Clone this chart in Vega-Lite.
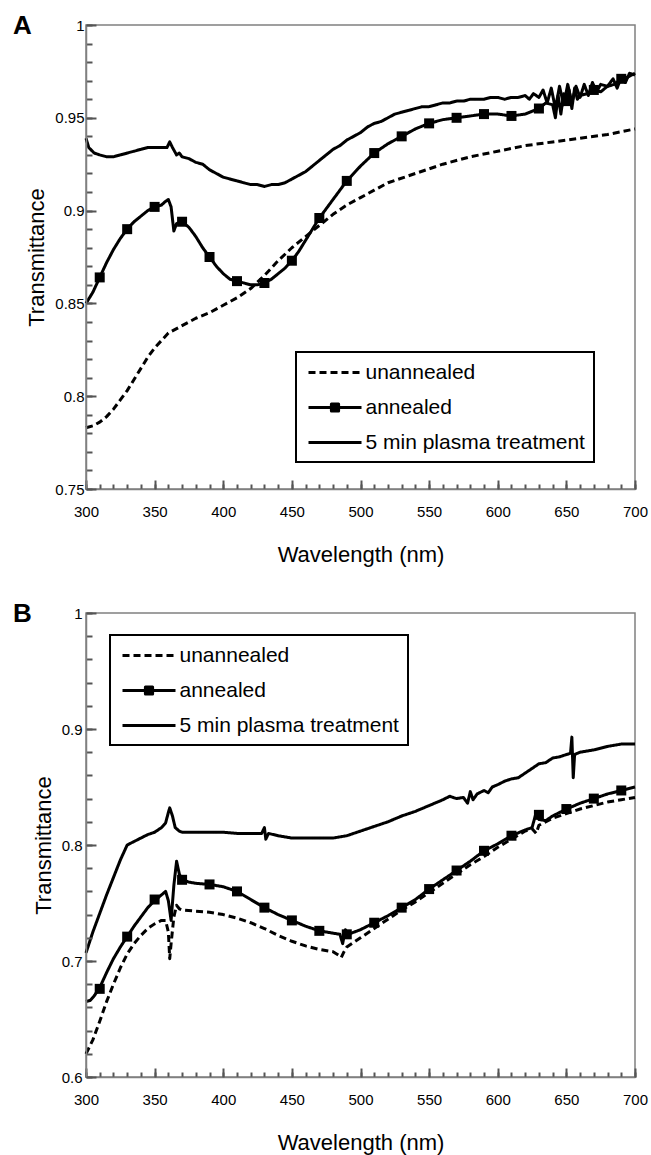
{
 "$schema": "https://vega.github.io/schema/vega-lite/v6.json",
 "background": "white",
 "padding": {"left": 12, "top": 12, "right": 5, "bottom": 5},
 "spacing": 34,
 "resolve": {"scale": {"strokeDash": "independent", "shape": "independent"}, "legend": {"strokeDash": "independent", "shape": "independent"}},
 "config": {
  "font": "Liberation Sans",
  "view": {"stroke": "#808080", "strokeWidth": 1.5},
  "axis": {"grid": false, "ticks": true, "domainColor": "#808080", "domainWidth": 1.5, "tickColor": "#555555", "tickWidth": 2, "tickRound": true, "tickCount": 1000, "labelFont": "Liberation Sans", "labelFontSize": 15, "labelColor": "#000", "titleFont": "Liberation Sans", "titleFontSize": 22, "titleFontWeight": "normal", "titleColor": "#000", "labelOverlap": false, "labelFlush": false, "labelBound": false, "zindex": 1},
  "legend": {"title": null, "orient": "none", "padding": 9, "strokeColor": "black", "fillColor": "white", "strokeWidth": 2, "labelFont": "Liberation Sans", "labelFontSize": 21, "labelColor": "black", "symbolSize": 400, "symbolStrokeWidth": 3, "symbolStrokeColor": "black", "symbolFillColor": "black", "symbolOpacity": 1, "rowPadding": 13, "labelOffset": 19, "symbolOffset": 18.5, "labelLimit": 400},
  "line": {"strokeWidth": 3, "color": "black", "strokeJoin": "round"},
  "title": {"font": "Liberation Sans", "fontSize": 26, "fontWeight": "bold", "color": "black", "anchor": "start", "frame": "group"}
 },
 "datasets": {
  "A": [
   {"w":300,"t":0.783,"s":"unannealed"},{"w":305,"t":0.784,"s":"unannealed"},{"w":310,"t":0.786,"s":"unannealed"},{"w":315,"t":0.789,"s":"unannealed"},{"w":320,"t":0.793,"s":"unannealed"},{"w":325,"t":0.798,"s":"unannealed"},{"w":330,"t":0.803,"s":"unannealed"},{"w":335,"t":0.809,"s":"unannealed"},{"w":340,"t":0.815,"s":"unannealed"},{"w":345,"t":0.821,"s":"unannealed"},{"w":350,"t":0.826,"s":"unannealed"},{"w":355,"t":0.830,"s":"unannealed"},{"w":360,"t":0.834,"s":"unannealed"},{"w":365,"t":0.836,"s":"unannealed"},{"w":370,"t":0.838,"s":"unannealed"},{"w":380,"t":0.842,"s":"unannealed"},{"w":390,"t":0.845,"s":"unannealed"},{"w":400,"t":0.849,"s":"unannealed"},{"w":410,"t":0.853,"s":"unannealed"},{"w":420,"t":0.858,"s":"unannealed"},{"w":430,"t":0.865,"s":"unannealed"},{"w":440,"t":0.873,"s":"unannealed"},{"w":450,"t":0.880,"s":"unannealed"},{"w":460,"t":0.886,"s":"unannealed"},{"w":470,"t":0.892,"s":"unannealed"},{"w":480,"t":0.898,"s":"unannealed"},{"w":490,"t":0.903,"s":"unannealed"},{"w":500,"t":0.907,"s":"unannealed"},{"w":510,"t":0.911,"s":"unannealed"},{"w":520,"t":0.915,"s":"unannealed"},{"w":540,"t":0.920,"s":"unannealed"},{"w":560,"t":0.925,"s":"unannealed"},{"w":580,"t":0.929,"s":"unannealed"},{"w":600,"t":0.932,"s":"unannealed"},{"w":620,"t":0.935,"s":"unannealed"},{"w":640,"t":0.937,"s":"unannealed"},{"w":660,"t":0.939,"s":"unannealed"},{"w":680,"t":0.941,"s":"unannealed"},{"w":700,"t":0.944,"s":"unannealed"},
   {"w":300,"t":0.850,"s":"annealed"},{"w":305,"t":0.856,"s":"annealed"},{"w":310,"t":0.864,"s":"annealed"},{"w":315,"t":0.872,"s":"annealed"},{"w":320,"t":0.879,"s":"annealed"},{"w":325,"t":0.885,"s":"annealed"},{"w":330,"t":0.890,"s":"annealed"},{"w":335,"t":0.894,"s":"annealed"},{"w":340,"t":0.897,"s":"annealed"},{"w":345,"t":0.900,"s":"annealed"},{"w":350,"t":0.902,"s":"annealed"},{"w":355,"t":0.903,"s":"annealed"},{"w":358,"t":0.905,"s":"annealed"},{"w":360,"t":0.906,"s":"annealed"},{"w":362,"t":0.902,"s":"annealed"},{"w":364,"t":0.889,"s":"annealed"},{"w":366,"t":0.893,"s":"annealed"},{"w":370,"t":0.894,"s":"annealed"},{"w":375,"t":0.891,"s":"annealed"},{"w":380,"t":0.886,"s":"annealed"},{"w":385,"t":0.880,"s":"annealed"},{"w":390,"t":0.875,"s":"annealed"},{"w":395,"t":0.870,"s":"annealed"},{"w":400,"t":0.866,"s":"annealed"},{"w":405,"t":0.863,"s":"annealed"},{"w":410,"t":0.862,"s":"annealed"},{"w":415,"t":0.861,"s":"annealed"},{"w":420,"t":0.860,"s":"annealed"},{"w":425,"t":0.860,"s":"annealed"},{"w":430,"t":0.861,"s":"annealed"},{"w":435,"t":0.863,"s":"annealed"},{"w":440,"t":0.866,"s":"annealed"},{"w":445,"t":0.869,"s":"annealed"},{"w":450,"t":0.873,"s":"annealed"},{"w":455,"t":0.878,"s":"annealed"},{"w":460,"t":0.884,"s":"annealed"},{"w":465,"t":0.890,"s":"annealed"},{"w":470,"t":0.896,"s":"annealed"},{"w":480,"t":0.906,"s":"annealed"},{"w":490,"t":0.916,"s":"annealed"},{"w":500,"t":0.924,"s":"annealed"},{"w":510,"t":0.931,"s":"annealed"},{"w":520,"t":0.936,"s":"annealed"},{"w":530,"t":0.940,"s":"annealed"},{"w":540,"t":0.944,"s":"annealed"},{"w":550,"t":0.947,"s":"annealed"},{"w":560,"t":0.949,"s":"annealed"},{"w":570,"t":0.950,"s":"annealed"},{"w":580,"t":0.951,"s":"annealed"},{"w":590,"t":0.952,"s":"annealed"},{"w":600,"t":0.952,"s":"annealed"},{"w":610,"t":0.951,"s":"annealed"},{"w":620,"t":0.952,"s":"annealed"},{"w":630,"t":0.955,"s":"annealed"},{"w":635,"t":0.958,"s":"annealed"},{"w":640,"t":0.957,"s":"annealed"},{"w":642,"t":0.950,"s":"annealed"},{"w":644,"t":0.962,"s":"annealed"},{"w":646,"t":0.952,"s":"annealed"},{"w":648,"t":0.963,"s":"annealed"},{"w":650,"t":0.958,"s":"annealed"},{"w":652,"t":0.965,"s":"annealed"},{"w":654,"t":0.955,"s":"annealed"},{"w":656,"t":0.966,"s":"annealed"},{"w":658,"t":0.960,"s":"annealed"},{"w":660,"t":0.962,"s":"annealed"},{"w":665,"t":0.963,"s":"annealed"},{"w":670,"t":0.965,"s":"annealed"},{"w":675,"t":0.964,"s":"annealed"},{"w":680,"t":0.967,"s":"annealed"},{"w":685,"t":0.968,"s":"annealed"},{"w":690,"t":0.971,"s":"annealed"},{"w":695,"t":0.972,"s":"annealed"},{"w":700,"t":0.974,"s":"annealed"},
   {"w":300,"t":0.939,"s":"5 min plasma treatment"},{"w":302,"t":0.934,"s":"5 min plasma treatment"},{"w":306,"t":0.931,"s":"5 min plasma treatment"},{"w":310,"t":0.930,"s":"5 min plasma treatment"},{"w":315,"t":0.929,"s":"5 min plasma treatment"},{"w":320,"t":0.929,"s":"5 min plasma treatment"},{"w":325,"t":0.930,"s":"5 min plasma treatment"},{"w":330,"t":0.931,"s":"5 min plasma treatment"},{"w":335,"t":0.932,"s":"5 min plasma treatment"},{"w":340,"t":0.933,"s":"5 min plasma treatment"},{"w":345,"t":0.934,"s":"5 min plasma treatment"},{"w":350,"t":0.934,"s":"5 min plasma treatment"},{"w":355,"t":0.934,"s":"5 min plasma treatment"},{"w":359,"t":0.934,"s":"5 min plasma treatment"},{"w":361,"t":0.937,"s":"5 min plasma treatment"},{"w":363,"t":0.934,"s":"5 min plasma treatment"},{"w":366,"t":0.930,"s":"5 min plasma treatment"},{"w":368,"t":0.931,"s":"5 min plasma treatment"},{"w":370,"t":0.929,"s":"5 min plasma treatment"},{"w":375,"t":0.928,"s":"5 min plasma treatment"},{"w":380,"t":0.926,"s":"5 min plasma treatment"},{"w":385,"t":0.925,"s":"5 min plasma treatment"},{"w":390,"t":0.922,"s":"5 min plasma treatment"},{"w":395,"t":0.920,"s":"5 min plasma treatment"},{"w":400,"t":0.918,"s":"5 min plasma treatment"},{"w":405,"t":0.917,"s":"5 min plasma treatment"},{"w":410,"t":0.916,"s":"5 min plasma treatment"},{"w":415,"t":0.915,"s":"5 min plasma treatment"},{"w":420,"t":0.914,"s":"5 min plasma treatment"},{"w":425,"t":0.914,"s":"5 min plasma treatment"},{"w":430,"t":0.913,"s":"5 min plasma treatment"},{"w":435,"t":0.914,"s":"5 min plasma treatment"},{"w":440,"t":0.914,"s":"5 min plasma treatment"},{"w":445,"t":0.915,"s":"5 min plasma treatment"},{"w":450,"t":0.917,"s":"5 min plasma treatment"},{"w":455,"t":0.919,"s":"5 min plasma treatment"},{"w":460,"t":0.921,"s":"5 min plasma treatment"},{"w":465,"t":0.924,"s":"5 min plasma treatment"},{"w":470,"t":0.927,"s":"5 min plasma treatment"},{"w":475,"t":0.930,"s":"5 min plasma treatment"},{"w":480,"t":0.933,"s":"5 min plasma treatment"},{"w":485,"t":0.935,"s":"5 min plasma treatment"},{"w":490,"t":0.938,"s":"5 min plasma treatment"},{"w":495,"t":0.940,"s":"5 min plasma treatment"},{"w":500,"t":0.942,"s":"5 min plasma treatment"},{"w":505,"t":0.945,"s":"5 min plasma treatment"},{"w":510,"t":0.947,"s":"5 min plasma treatment"},{"w":515,"t":0.948,"s":"5 min plasma treatment"},{"w":520,"t":0.950,"s":"5 min plasma treatment"},{"w":525,"t":0.952,"s":"5 min plasma treatment"},{"w":530,"t":0.953,"s":"5 min plasma treatment"},{"w":535,"t":0.954,"s":"5 min plasma treatment"},{"w":540,"t":0.955,"s":"5 min plasma treatment"},{"w":545,"t":0.956,"s":"5 min plasma treatment"},{"w":550,"t":0.956,"s":"5 min plasma treatment"},{"w":555,"t":0.957,"s":"5 min plasma treatment"},{"w":560,"t":0.958,"s":"5 min plasma treatment"},{"w":565,"t":0.958,"s":"5 min plasma treatment"},{"w":570,"t":0.959,"s":"5 min plasma treatment"},{"w":575,"t":0.959,"s":"5 min plasma treatment"},{"w":580,"t":0.960,"s":"5 min plasma treatment"},{"w":585,"t":0.960,"s":"5 min plasma treatment"},{"w":590,"t":0.960,"s":"5 min plasma treatment"},{"w":595,"t":0.961,"s":"5 min plasma treatment"},{"w":600,"t":0.961,"s":"5 min plasma treatment"},{"w":605,"t":0.960,"s":"5 min plasma treatment"},{"w":610,"t":0.961,"s":"5 min plasma treatment"},{"w":615,"t":0.961,"s":"5 min plasma treatment"},{"w":620,"t":0.962,"s":"5 min plasma treatment"},{"w":623,"t":0.960,"s":"5 min plasma treatment"},{"w":626,"t":0.963,"s":"5 min plasma treatment"},{"w":630,"t":0.961,"s":"5 min plasma treatment"},{"w":633,"t":0.965,"s":"5 min plasma treatment"},{"w":636,"t":0.958,"s":"5 min plasma treatment"},{"w":639,"t":0.966,"s":"5 min plasma treatment"},{"w":642,"t":0.955,"s":"5 min plasma treatment"},{"w":645,"t":0.967,"s":"5 min plasma treatment"},{"w":648,"t":0.957,"s":"5 min plasma treatment"},{"w":651,"t":0.968,"s":"5 min plasma treatment"},{"w":654,"t":0.958,"s":"5 min plasma treatment"},{"w":657,"t":0.967,"s":"5 min plasma treatment"},{"w":660,"t":0.961,"s":"5 min plasma treatment"},{"w":663,"t":0.968,"s":"5 min plasma treatment"},{"w":666,"t":0.962,"s":"5 min plasma treatment"},{"w":669,"t":0.969,"s":"5 min plasma treatment"},{"w":672,"t":0.964,"s":"5 min plasma treatment"},{"w":675,"t":0.968,"s":"5 min plasma treatment"},{"w":680,"t":0.967,"s":"5 min plasma treatment"},{"w":684,"t":0.971,"s":"5 min plasma treatment"},{"w":687,"t":0.966,"s":"5 min plasma treatment"},{"w":690,"t":0.972,"s":"5 min plasma treatment"},{"w":693,"t":0.969,"s":"5 min plasma treatment"},{"w":696,"t":0.974,"s":"5 min plasma treatment"},{"w":700,"t":0.973,"s":"5 min plasma treatment"}
  ],
  "Am": [
   {"w":310,"t":0.864},{"w":330,"t":0.890},{"w":350,"t":0.902},{"w":370,"t":0.894},{"w":390,"t":0.875},{"w":410,"t":0.862},{"w":430,"t":0.861},{"w":450,"t":0.873},{"w":470,"t":0.896},{"w":490,"t":0.916},{"w":510,"t":0.931},{"w":530,"t":0.940},{"w":550,"t":0.947},{"w":570,"t":0.950},{"w":590,"t":0.952},{"w":610,"t":0.951},{"w":630,"t":0.955},{"w":650,"t":0.959},{"w":670,"t":0.965},{"w":690,"t":0.971}
  ],
  "B": [
   {"w":300,"t":0.620,"s":"unannealed"},{"w":305,"t":0.632,"s":"unannealed"},{"w":310,"t":0.648,"s":"unannealed"},{"w":315,"t":0.665,"s":"unannealed"},{"w":320,"t":0.680,"s":"unannealed"},{"w":325,"t":0.694,"s":"unannealed"},{"w":330,"t":0.706,"s":"unannealed"},{"w":335,"t":0.715,"s":"unannealed"},{"w":340,"t":0.722,"s":"unannealed"},{"w":345,"t":0.728,"s":"unannealed"},{"w":350,"t":0.732,"s":"unannealed"},{"w":355,"t":0.735,"s":"unannealed"},{"w":358,"t":0.735,"s":"unannealed"},{"w":360,"t":0.725,"s":"unannealed"},{"w":361,"t":0.702,"s":"unannealed"},{"w":362,"t":0.715,"s":"unannealed"},{"w":364,"t":0.738,"s":"unannealed"},{"w":366,"t":0.748,"s":"unannealed"},{"w":368,"t":0.745,"s":"unannealed"},{"w":370,"t":0.744,"s":"unannealed"},{"w":380,"t":0.743,"s":"unannealed"},{"w":390,"t":0.742,"s":"unannealed"},{"w":400,"t":0.740,"s":"unannealed"},{"w":410,"t":0.737,"s":"unannealed"},{"w":420,"t":0.733,"s":"unannealed"},{"w":430,"t":0.728,"s":"unannealed"},{"w":440,"t":0.722,"s":"unannealed"},{"w":450,"t":0.717,"s":"unannealed"},{"w":460,"t":0.713,"s":"unannealed"},{"w":470,"t":0.710,"s":"unannealed"},{"w":480,"t":0.708,"s":"unannealed"},{"w":484,"t":0.705,"s":"unannealed"},{"w":486,"t":0.703,"s":"unannealed"},{"w":488,"t":0.708,"s":"unannealed"},{"w":490,"t":0.712,"s":"unannealed"},{"w":500,"t":0.720,"s":"unannealed"},{"w":510,"t":0.728,"s":"unannealed"},{"w":520,"t":0.736,"s":"unannealed"},{"w":530,"t":0.744,"s":"unannealed"},{"w":540,"t":0.751,"s":"unannealed"},{"w":550,"t":0.759,"s":"unannealed"},{"w":560,"t":0.767,"s":"unannealed"},{"w":570,"t":0.775,"s":"unannealed"},{"w":580,"t":0.783,"s":"unannealed"},{"w":590,"t":0.790,"s":"unannealed"},{"w":600,"t":0.798,"s":"unannealed"},{"w":610,"t":0.805,"s":"unannealed"},{"w":620,"t":0.812,"s":"unannealed"},{"w":625,"t":0.814,"s":"unannealed"},{"w":628,"t":0.810,"s":"unannealed"},{"w":630,"t":0.817,"s":"unannealed"},{"w":640,"t":0.823,"s":"unannealed"},{"w":650,"t":0.827,"s":"unannealed"},{"w":660,"t":0.831,"s":"unannealed"},{"w":670,"t":0.834,"s":"unannealed"},{"w":680,"t":0.837,"s":"unannealed"},{"w":690,"t":0.839,"s":"unannealed"},{"w":700,"t":0.841,"s":"unannealed"},
   {"w":300,"t":0.665,"s":"annealed"},{"w":303,"t":0.666,"s":"annealed"},{"w":306,"t":0.670,"s":"annealed"},{"w":310,"t":0.677,"s":"annealed"},{"w":315,"t":0.690,"s":"annealed"},{"w":320,"t":0.702,"s":"annealed"},{"w":325,"t":0.712,"s":"annealed"},{"w":330,"t":0.721,"s":"annealed"},{"w":335,"t":0.730,"s":"annealed"},{"w":340,"t":0.738,"s":"annealed"},{"w":345,"t":0.746,"s":"annealed"},{"w":350,"t":0.752,"s":"annealed"},{"w":355,"t":0.757,"s":"annealed"},{"w":358,"t":0.760,"s":"annealed"},{"w":360,"t":0.752,"s":"annealed"},{"w":362,"t":0.735,"s":"annealed"},{"w":364,"t":0.765,"s":"annealed"},{"w":366,"t":0.786,"s":"annealed"},{"w":368,"t":0.775,"s":"annealed"},{"w":370,"t":0.770,"s":"annealed"},{"w":375,"t":0.768,"s":"annealed"},{"w":380,"t":0.767,"s":"annealed"},{"w":390,"t":0.766,"s":"annealed"},{"w":400,"t":0.764,"s":"annealed"},{"w":410,"t":0.760,"s":"annealed"},{"w":420,"t":0.753,"s":"annealed"},{"w":430,"t":0.746,"s":"annealed"},{"w":440,"t":0.740,"s":"annealed"},{"w":450,"t":0.735,"s":"annealed"},{"w":460,"t":0.730,"s":"annealed"},{"w":470,"t":0.726,"s":"annealed"},{"w":480,"t":0.724,"s":"annealed"},{"w":485,"t":0.723,"s":"annealed"},{"w":487,"t":0.715,"s":"annealed"},{"w":489,"t":0.727,"s":"annealed"},{"w":491,"t":0.723,"s":"annealed"},{"w":500,"t":0.727,"s":"annealed"},{"w":510,"t":0.733,"s":"annealed"},{"w":520,"t":0.739,"s":"annealed"},{"w":530,"t":0.746,"s":"annealed"},{"w":540,"t":0.753,"s":"annealed"},{"w":550,"t":0.762,"s":"annealed"},{"w":560,"t":0.770,"s":"annealed"},{"w":570,"t":0.778,"s":"annealed"},{"w":580,"t":0.786,"s":"annealed"},{"w":590,"t":0.795,"s":"annealed"},{"w":600,"t":0.801,"s":"annealed"},{"w":610,"t":0.808,"s":"annealed"},{"w":620,"t":0.813,"s":"annealed"},{"w":625,"t":0.815,"s":"annealed"},{"w":628,"t":0.828,"s":"annealed"},{"w":630,"t":0.822,"s":"annealed"},{"w":635,"t":0.821,"s":"annealed"},{"w":640,"t":0.825,"s":"annealed"},{"w":650,"t":0.831,"s":"annealed"},{"w":660,"t":0.836,"s":"annealed"},{"w":670,"t":0.840,"s":"annealed"},{"w":680,"t":0.844,"s":"annealed"},{"w":690,"t":0.847,"s":"annealed"},{"w":700,"t":0.850,"s":"annealed"},
   {"w":300,"t":0.707,"s":"5 min plasma treatment"},{"w":305,"t":0.725,"s":"5 min plasma treatment"},{"w":310,"t":0.741,"s":"5 min plasma treatment"},{"w":315,"t":0.757,"s":"5 min plasma treatment"},{"w":320,"t":0.772,"s":"5 min plasma treatment"},{"w":325,"t":0.787,"s":"5 min plasma treatment"},{"w":330,"t":0.800,"s":"5 min plasma treatment"},{"w":335,"t":0.803,"s":"5 min plasma treatment"},{"w":340,"t":0.806,"s":"5 min plasma treatment"},{"w":345,"t":0.809,"s":"5 min plasma treatment"},{"w":350,"t":0.811,"s":"5 min plasma treatment"},{"w":355,"t":0.815,"s":"5 min plasma treatment"},{"w":358,"t":0.819,"s":"5 min plasma treatment"},{"w":360,"t":0.828,"s":"5 min plasma treatment"},{"w":361,"t":0.832,"s":"5 min plasma treatment"},{"w":363,"t":0.825,"s":"5 min plasma treatment"},{"w":365,"t":0.815,"s":"5 min plasma treatment"},{"w":368,"t":0.812,"s":"5 min plasma treatment"},{"w":370,"t":0.811,"s":"5 min plasma treatment"},{"w":380,"t":0.811,"s":"5 min plasma treatment"},{"w":390,"t":0.811,"s":"5 min plasma treatment"},{"w":400,"t":0.811,"s":"5 min plasma treatment"},{"w":410,"t":0.810,"s":"5 min plasma treatment"},{"w":420,"t":0.810,"s":"5 min plasma treatment"},{"w":428,"t":0.810,"s":"5 min plasma treatment"},{"w":430,"t":0.815,"s":"5 min plasma treatment"},{"w":431,"t":0.805,"s":"5 min plasma treatment"},{"w":433,"t":0.810,"s":"5 min plasma treatment"},{"w":440,"t":0.808,"s":"5 min plasma treatment"},{"w":450,"t":0.806,"s":"5 min plasma treatment"},{"w":460,"t":0.806,"s":"5 min plasma treatment"},{"w":470,"t":0.806,"s":"5 min plasma treatment"},{"w":480,"t":0.806,"s":"5 min plasma treatment"},{"w":490,"t":0.808,"s":"5 min plasma treatment"},{"w":500,"t":0.812,"s":"5 min plasma treatment"},{"w":510,"t":0.816,"s":"5 min plasma treatment"},{"w":520,"t":0.820,"s":"5 min plasma treatment"},{"w":530,"t":0.825,"s":"5 min plasma treatment"},{"w":540,"t":0.829,"s":"5 min plasma treatment"},{"w":550,"t":0.834,"s":"5 min plasma treatment"},{"w":560,"t":0.839,"s":"5 min plasma treatment"},{"w":565,"t":0.842,"s":"5 min plasma treatment"},{"w":570,"t":0.840,"s":"5 min plasma treatment"},{"w":575,"t":0.841,"s":"5 min plasma treatment"},{"w":578,"t":0.836,"s":"5 min plasma treatment"},{"w":580,"t":0.846,"s":"5 min plasma treatment"},{"w":582,"t":0.839,"s":"5 min plasma treatment"},{"w":585,"t":0.844,"s":"5 min plasma treatment"},{"w":590,"t":0.847,"s":"5 min plasma treatment"},{"w":593,"t":0.845,"s":"5 min plasma treatment"},{"w":596,"t":0.850,"s":"5 min plasma treatment"},{"w":600,"t":0.852,"s":"5 min plasma treatment"},{"w":605,"t":0.855,"s":"5 min plasma treatment"},{"w":610,"t":0.857,"s":"5 min plasma treatment"},{"w":615,"t":0.858,"s":"5 min plasma treatment"},{"w":620,"t":0.862,"s":"5 min plasma treatment"},{"w":625,"t":0.866,"s":"5 min plasma treatment"},{"w":630,"t":0.870,"s":"5 min plasma treatment"},{"w":635,"t":0.871,"s":"5 min plasma treatment"},{"w":640,"t":0.875,"s":"5 min plasma treatment"},{"w":645,"t":0.876,"s":"5 min plasma treatment"},{"w":650,"t":0.878,"s":"5 min plasma treatment"},{"w":653,"t":0.879,"s":"5 min plasma treatment"},{"w":654,"t":0.893,"s":"5 min plasma treatment"},{"w":655,"t":0.858,"s":"5 min plasma treatment"},{"w":656,"t":0.878,"s":"5 min plasma treatment"},{"w":660,"t":0.880,"s":"5 min plasma treatment"},{"w":670,"t":0.882,"s":"5 min plasma treatment"},{"w":680,"t":0.885,"s":"5 min plasma treatment"},{"w":690,"t":0.887,"s":"5 min plasma treatment"},{"w":700,"t":0.887,"s":"5 min plasma treatment"}
  ],
  "Bm": [
   {"w":310,"t":0.676},{"w":330,"t":0.721},{"w":350,"t":0.753},{"w":370,"t":0.770},{"w":390,"t":0.766},{"w":410,"t":0.760},{"w":430,"t":0.746},{"w":450,"t":0.735},{"w":470,"t":0.726},{"w":490,"t":0.723},{"w":510,"t":0.733},{"w":530,"t":0.746},{"w":550,"t":0.762},{"w":570,"t":0.778},{"w":590,"t":0.795},{"w":610,"t":0.808},{"w":630,"t":0.826},{"w":650,"t":0.831},{"w":670,"t":0.840},{"w":690,"t":0.847}
  ]
 },
 "vconcat": [
  {
   "width": 549, "height": 464,
   "title": {"text": "A", "dx": -73, "dy": 21, "offset": 0},
   "resolve": {"axis": {"x": "independent", "y": "independent"}},
   "layer": [
    {
     "data": {"name": "A"},
     "mark": {"type": "line"},
     "encoding": {
      "x": {"field": "w", "type": "quantitative", "scale": {"domain": [300, 700], "nice": false, "zero": false},
            "axis": {"orient": "bottom", "title": null, "labels": false, "ticks": true, "tickSize": -5, "zindex": 1,
                     "values": [300,310,320,330,340,350,360,370,380,390,400,410,420,430,440,450,460,470,480,490,500,510,520,530,540,550,560,570,580,590,600,610,620,630,640,650,660,670,680,690,700]}},
      "y": {"field": "t", "type": "quantitative", "scale": {"domain": [0.75, 1], "nice": false, "zero": false},
            "axis": {"orient": "left", "title": null, "labels": false, "ticks": true, "tickSize": -6, "zindex": 1,
                     "values": [0.75,0.76,0.77,0.78,0.79,0.8,0.81,0.82,0.83,0.84,0.85,0.86,0.87,0.88,0.89,0.9,0.91,0.92,0.93,0.94,0.95,0.96,0.97,0.98,0.99,1]}},
      "strokeDash": {"field": "s", "type": "nominal",
                     "scale": {"domain": ["unannealed", "annealed", "5 min plasma treatment"], "range": [[7, 4], [1, 0], [1, 0]]},
                     "legend": {"legendX": 210, "legendY": 327, "symbolType": "M-2.65,0H2.65"}}
     }
    },
    {
     "data": {"name": "Am"},
     "mark": {"type": "square", "size": 100, "color": "black", "opacity": 1, "filled": true},
     "encoding": {
      "x": {"field": "w", "type": "quantitative", "scale": {"domain": [300, 700], "nice": false, "zero": false},
            "axis": {"orient": "bottom", "title": "Wavelength (nm)", "format": "d", "ticks": true, "tickSize": -9, "domain": false, "zindex": 1,
                     "values": [300,350,400,450,500,550,600,650,700], "labelPadding": 24, "titlePadding": 25}},
      "y": {"field": "t", "type": "quantitative", "scale": {"domain": [0.75, 1], "nice": false, "zero": false},
            "axis": {"orient": "left", "title": "Transmittance", "format": "~g", "ticks": true, "tickSize": -10, "domain": false, "zindex": 1,
                     "values": [0.75,0.8,0.85,0.9,0.95,1], "labelPadding": 12, "titlePadding": 6}}
     }
    },
    {
     "data": {"name": "A"},
     "transform": [{"filter": "datum.w < 0"}],
     "mark": {"type": "point", "filled": true, "fill": "black", "stroke": "black", "strokeWidth": 3, "opacity": 1},
     "encoding": {
      "x": {"field": "w", "type": "quantitative", "scale": {"domain": [300, 700], "nice": false, "zero": false}, "axis": null},
      "y": {"field": "t", "type": "quantitative", "scale": {"domain": [0.75, 1], "nice": false, "zero": false}, "axis": null},
      "shape": {"field": "s", "type": "nominal",
                "scale": {"domain": ["unannealed", "annealed", "5 min plasma treatment"],
                          "range": ["M-2.65,0H2.65", "M-2.65,0H2.65M-0.36,-0.36H0.36V0.36H-0.36ZM-0.2,-0.2H0.2V0.2H-0.2ZM-0.05,-0.05H0.05V0.05H-0.05Z", "M-2.65,0H2.65"]},
                "legend": {"legendX": 210, "legendY": 327}}
     }
    }
   ]
  },
  {
   "width": 549, "height": 464,
   "title": {"text": "B", "dx": -73, "dy": 21, "offset": 0},
   "resolve": {"axis": {"x": "independent", "y": "independent"}},
   "layer": [
    {
     "data": {"name": "B"},
     "mark": {"type": "line"},
     "encoding": {
      "x": {"field": "w", "type": "quantitative", "scale": {"domain": [300, 700], "nice": false, "zero": false},
            "axis": {"orient": "bottom", "title": null, "labels": false, "ticks": true, "tickSize": -5, "zindex": 1,
                     "values": [300,310,320,330,340,350,360,370,380,390,400,410,420,430,440,450,460,470,480,490,500,510,520,530,540,550,560,570,580,590,600,610,620,630,640,650,660,670,680,690,700]}},
      "y": {"field": "t", "type": "quantitative", "scale": {"domain": [0.6, 1], "nice": false, "zero": false},
            "axis": {"orient": "left", "title": null, "labels": false, "ticks": true, "tickSize": -6, "zindex": 1,
                     "values": [0.6,0.62,0.64,0.66,0.68,0.7,0.72,0.74,0.76,0.78,0.8,0.82,0.84,0.86,0.88,0.9,0.92,0.94,0.96,0.98,1]}},
      "strokeDash": {"field": "s", "type": "nominal",
                     "scale": {"domain": ["unannealed", "annealed", "5 min plasma treatment"], "range": [[7, 4], [1, 0], [1, 0]]},
                     "legend": {"legendX": 24, "legendY": 22, "symbolType": "M-2.65,0H2.65"}}
     }
    },
    {
     "data": {"name": "Bm"},
     "mark": {"type": "square", "size": 100, "color": "black", "opacity": 1, "filled": true},
     "encoding": {
      "x": {"field": "w", "type": "quantitative", "scale": {"domain": [300, 700], "nice": false, "zero": false},
            "axis": {"orient": "bottom", "title": "Wavelength (nm)", "format": "d", "ticks": true, "tickSize": -9, "domain": false, "zindex": 1,
                     "values": [300,350,400,450,500,550,600,650,700], "labelPadding": 24, "titlePadding": 25}},
      "y": {"field": "t", "type": "quantitative", "scale": {"domain": [0.6, 1], "nice": false, "zero": false},
            "axis": {"orient": "left", "title": "Transmittance", "format": "~g", "ticks": true, "tickSize": -10, "domain": false, "zindex": 1,
                     "values": [0.6,0.7,0.8,0.9,1], "labelPadding": 14, "titlePadding": 6}}
     }
    },
    {
     "data": {"name": "B"},
     "transform": [{"filter": "datum.w < 0"}],
     "mark": {"type": "point", "filled": true, "fill": "black", "stroke": "black", "strokeWidth": 3, "opacity": 1},
     "encoding": {
      "x": {"field": "w", "type": "quantitative", "scale": {"domain": [300, 700], "nice": false, "zero": false}, "axis": null},
      "y": {"field": "t", "type": "quantitative", "scale": {"domain": [0.6, 1], "nice": false, "zero": false}, "axis": null},
      "shape": {"field": "s", "type": "nominal",
                "scale": {"domain": ["unannealed", "annealed", "5 min plasma treatment"],
                          "range": ["M-2.65,0H2.65", "M-2.65,0H2.65M-0.36,-0.36H0.36V0.36H-0.36ZM-0.2,-0.2H0.2V0.2H-0.2ZM-0.05,-0.05H0.05V0.05H-0.05Z", "M-2.65,0H2.65"]},
                "legend": {"legendX": 24, "legendY": 22}}
     }
    }
   ]
  }
 ]
}
